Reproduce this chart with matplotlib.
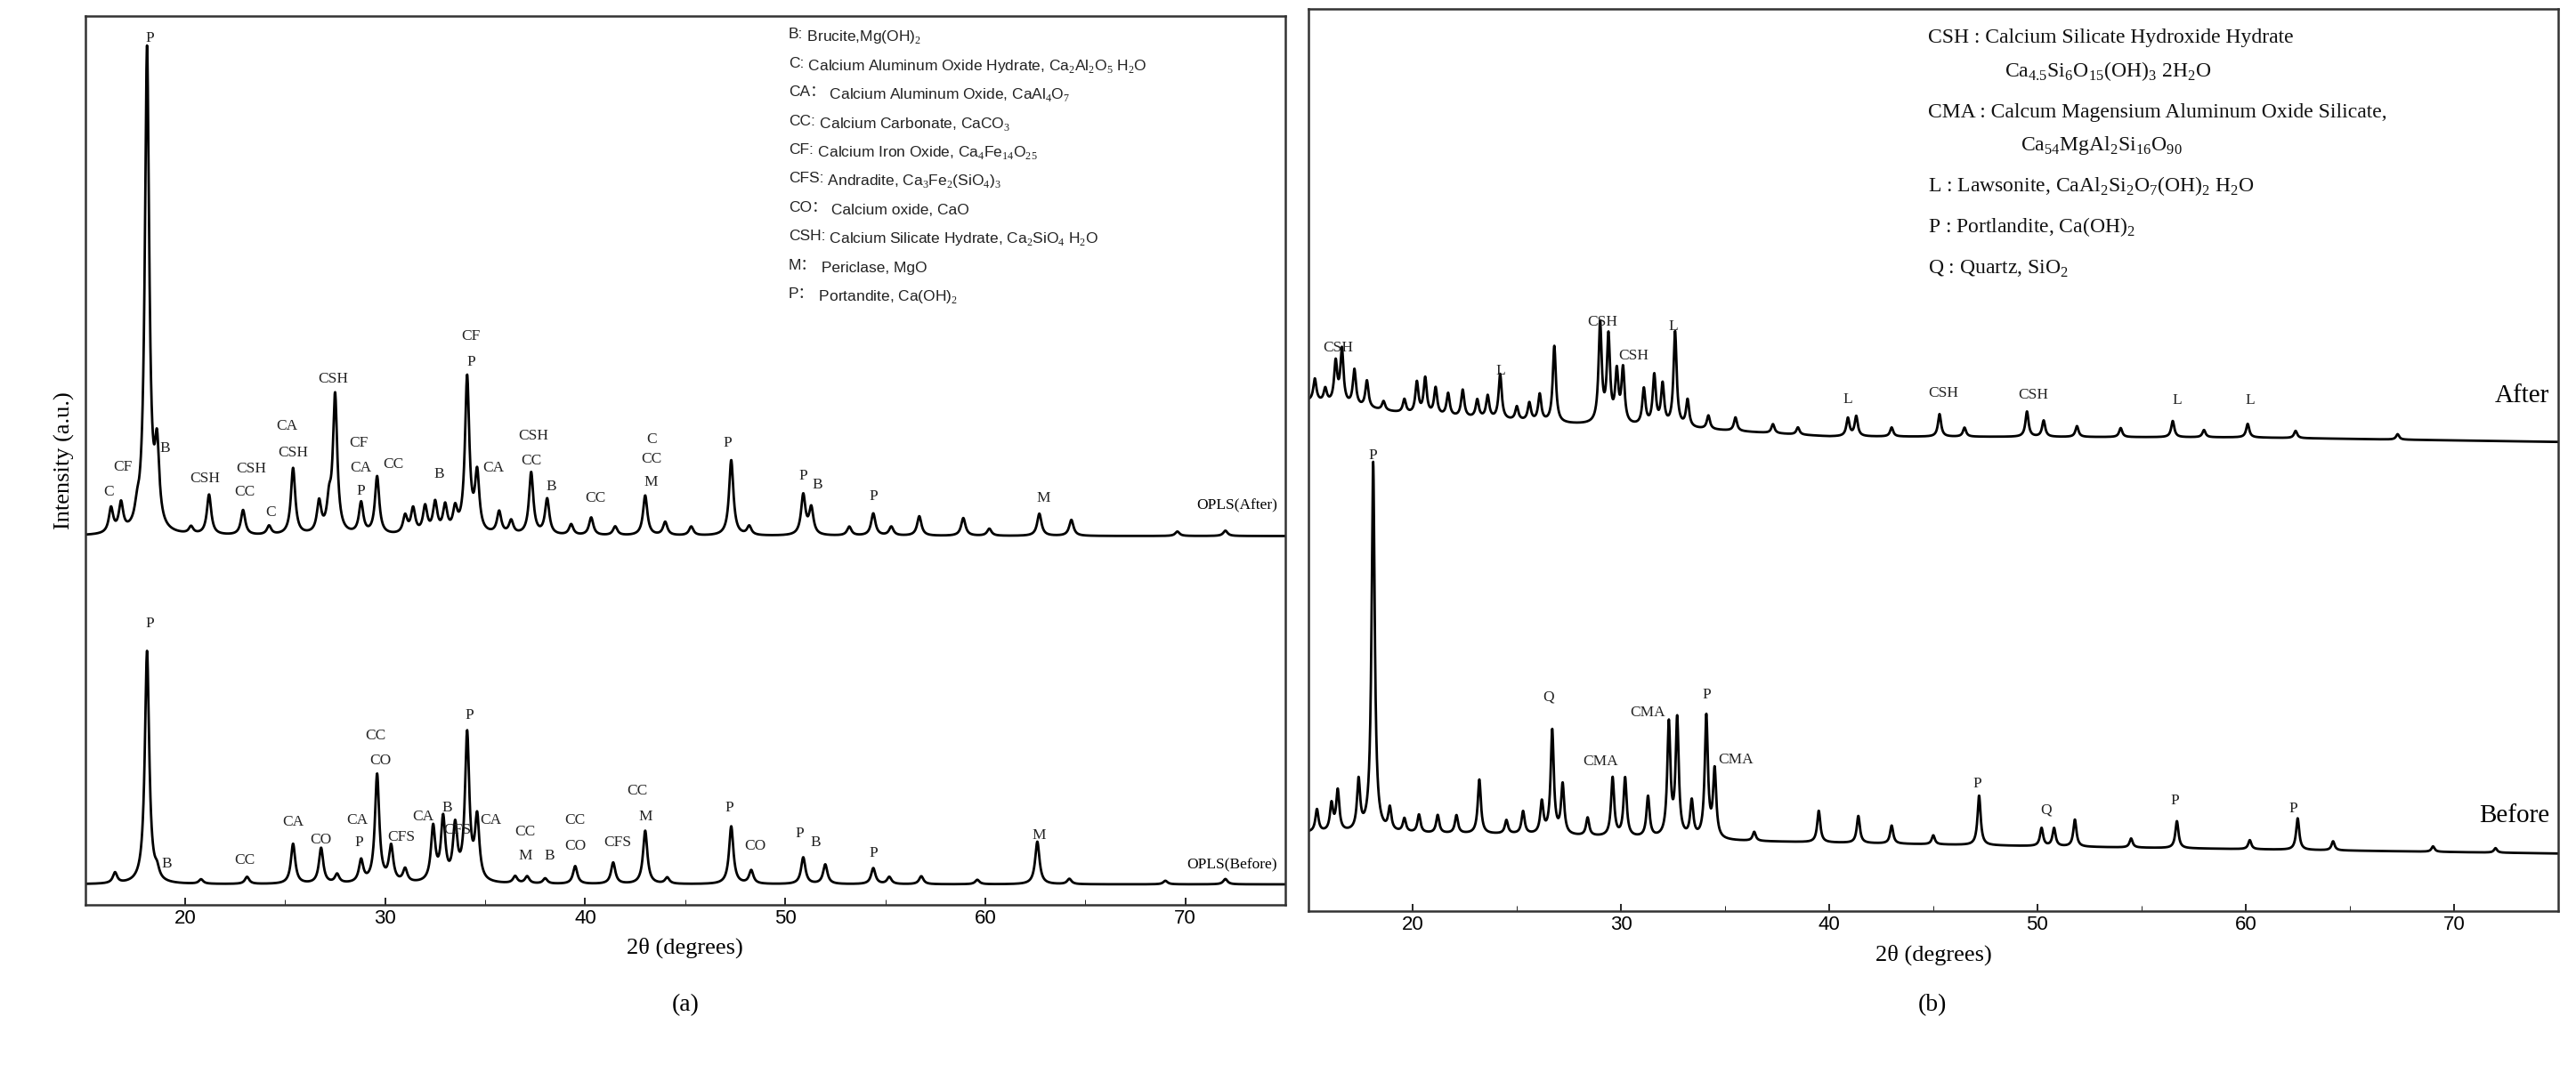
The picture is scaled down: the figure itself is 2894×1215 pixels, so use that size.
import numpy as np
import matplotlib.pyplot as plt

# ---- (a) peaks: position (2theta), height above baseline ----
a_after_base = 41.5
a_after_pos = [16.3, 16.8, 17.6, 18.1, 18.6, 20.3, 21.2, 22.9, 24.2, 25.4, 26.7, 27.2, 27.5,
               28.8, 29.6, 31.0, 31.4, 32.0, 32.5, 33.0, 33.5, 34.1, 34.6, 35.7, 36.3, 37.3,
               38.1, 39.3, 40.3, 41.5, 43.0, 44.0, 45.3, 47.3, 48.2, 50.9, 51.3, 53.2, 54.4,
               55.3, 56.7, 58.9, 60.2, 62.7, 64.3, 69.6, 72.0]
a_after_h = [2.8, 3.2, 1.5, 54.5, 8.5, 0.8, 4.5, 2.8, 1.0, 7.5, 3.5, 3.0, 15.5,
             3.5, 6.5, 2.0, 2.8, 3.0, 3.4, 3.0, 2.5, 17.5, 6.5, 2.5, 1.5, 7.0,
             4.0, 1.2, 2.0, 1.0, 4.5, 1.5, 1.0, 8.5, 1.0, 4.5, 3.0, 1.0, 2.5,
             1.0, 2.2, 2.0, 0.8, 2.5, 1.8, 0.5, 0.6]

a_before_base = 2.3
a_before_pos = [16.5, 18.1, 18.6, 20.8, 23.1, 25.4, 26.8, 27.6, 28.8, 29.6, 30.3, 31.0, 32.4,
                32.9, 33.5, 34.1, 34.6, 36.5, 37.1, 38.0, 39.5, 41.4, 43.0, 44.1, 47.3, 48.3,
                50.9, 52.0, 54.4, 55.2, 56.8, 59.6, 62.6, 64.2, 69.0, 72.0]
a_before_h = [1.2, 26.2, 1.0, 0.5, 0.8, 4.5, 4.0, 1.0, 2.5, 12.2, 4.0, 1.5, 6.1,
              7.0, 6.0, 16.5, 7.0, 0.8, 0.8, 0.6, 2.0, 2.4, 6.0, 0.7, 6.5, 1.5,
              3.0, 2.2, 1.8, 0.8, 0.9, 0.5, 4.8, 0.6, 0.4, 0.6]

# ---- (b) peaks ----
b_after_base = [(15, 56.5), (20, 55.0), (27, 54), (33, 53.5), (40, 52.6), (60, 52.5), (75, 52.0)]
b_after_pos = [15.3, 15.8, 16.3, 16.6, 17.2, 17.8, 18.6, 19.6, 20.2, 20.6, 21.1, 21.7, 22.4,
               23.1, 23.6, 24.2, 25.0, 25.6, 26.1, 26.8, 29.0, 29.4, 29.8, 30.1, 31.1, 31.6,
               32.0, 32.6, 33.2, 34.2, 35.5, 37.3, 38.5, 40.9, 41.3, 43.0, 45.3, 46.5, 49.5,
               50.3, 51.9, 54.0, 56.5, 58.0, 60.1, 62.4, 67.3]
b_after_h = [2.5, 1.5, 4.5, 6.0, 4.0, 3.0, 1.0, 1.5, 3.5, 4.0, 3.0, 2.5, 3.0,
             2.0, 2.5, 5.0, 1.5, 2.0, 3.0, 8.5, 11.0, 9.5, 5.5, 6.0, 4.0, 5.5,
             4.5, 10.5, 3.0, 1.5, 1.5, 1.0, 0.8, 2.0, 2.2, 1.0, 2.5, 1.0, 2.8,
             1.8, 1.2, 1.0, 1.8, 0.8, 1.5, 0.8, 0.6]

b_before_base = [(15, 8.7), (25, 8.5), (35, 7.8), (50, 7.2), (75, 6.4)]
b_before_pos = [15.4, 16.1, 16.4, 17.4, 18.1, 18.9, 19.6, 20.3, 21.2, 22.1, 23.2, 24.5, 25.3,
                26.2, 26.7, 27.2, 28.4, 29.6, 30.2, 31.3, 32.3, 32.7, 33.4, 34.1, 34.5, 36.4,
                39.5, 41.4, 43.0, 45.0, 47.2, 50.2, 50.8, 51.8, 54.5, 56.7, 60.2, 62.5, 64.2,
                69.0, 72.0]
b_before_h = [2.5, 3.0, 4.5, 5.5, 41.0, 2.5, 1.5, 2.0, 2.0, 2.0, 6.0, 1.5, 2.5,
              3.5, 11.5, 5.5, 2.0, 6.5, 6.5, 4.5, 12.5, 13.0, 4.0, 13.5, 7.5, 1.0,
              3.5, 3.0, 2.0, 1.0, 5.5, 2.0, 2.0, 3.0, 1.0, 3.0, 1.0, 3.5, 1.0,
              0.6, 0.5]

# ---- peak labels: (x, y, text) ----
a_after_labels = [(18.26, 97.5, 'P'), (16.2, 46.5, 'C'), (16.9, 49.3, 'CF'), (19.0, 51.4, 'B'),
                  (21.0, 48.0, 'CSH'), (23.3, 49.1, 'CSH'), (23.0, 46.5, 'CC'), (24.3, 44.2, 'C'),
                  (25.1, 53.9, 'CA'), (25.4, 50.9, 'CSH'), (27.4, 59.2, 'CSH'), (28.7, 52.0, 'CF'),
                  (28.8, 49.2, 'CA'), (28.8, 46.6, 'P'), (30.4, 49.6, 'CC'), (32.7, 48.5, 'B'),
                  (34.3, 64.0, 'CF'), (34.3, 61.1, 'P'), (35.4, 49.2, 'CA'), (37.4, 52.8, 'CSH'),
                  (37.3, 50.0, 'CC'), (38.3, 47.1, 'B'), (40.5, 45.8, 'CC'), (43.3, 52.4, 'C'),
                  (43.3, 50.2, 'CC'), (43.3, 47.6, 'M'), (47.1, 52.0, 'P'), (50.9, 48.3, 'P'),
                  (51.6, 47.3, 'B'), (54.4, 46.0, 'P'), (62.9, 45.8, 'M')]
a_before_labels = [(18.26, 31.6, 'P'), (19.1, 4.6, 'B'), (23.0, 5.0, 'CC'), (25.4, 9.3, 'CA'),
                   (26.8, 7.3, 'CO'), (28.6, 9.5, 'CA'), (28.7, 7.0, 'P'), (29.5, 19.0, 'CC'),
                   (29.75, 16.2, 'CO'), (30.8, 7.6, 'CFS'), (31.9, 9.9, 'CA'), (33.1, 10.9, 'B'),
                   (33.6, 8.4, 'CFS'), (34.2, 21.3, 'P'), (35.3, 9.5, 'CA'), (37.0, 8.2, 'CC'),
                   (37.0, 5.5, 'M'), (38.2, 5.5, 'B'), (39.5, 9.5, 'CC'), (39.5, 6.6, 'CO'),
                   (41.6, 7.0, 'CFS'), (42.6, 12.8, 'CC'), (43.0, 9.9, 'M'), (47.2, 10.9, 'P'),
                   (48.5, 6.6, 'CO'), (50.7, 8.0, 'P'), (51.5, 7.0, 'B'), (54.4, 5.8, 'P'),
                   (62.7, 7.8, 'M')]
b_after_labels = [(16.4, 62.4, 'CSH'), (24.2, 59.9, 'L'), (29.1, 65.3, 'CSH'), (30.6, 61.5, 'CSH'),
                  (32.5, 64.8, 'L'), (40.9, 56.7, 'L'), (45.5, 57.4, 'CSH'), (49.8, 57.2, 'CSH'),
                  (56.7, 56.6, 'L'), (60.2, 56.6, 'L')]
b_before_labels = [(18.1, 50.5, 'P'), (26.5, 23.7, 'Q'), (31.3, 22.0, 'CMA'), (29.0, 16.6, 'CMA'),
                   (34.1, 24.0, 'P'), (35.5, 16.8, 'CMA'), (47.1, 14.1, 'P'), (50.4, 11.2, 'Q'),
                   (56.6, 12.2, 'P'), (62.3, 11.4, 'P')]

# legend lines of (a): (prefix, rest)
a_legend = [('B:', ' Brucite,Mg(OH)$_2$'),
            ('C:', ' Calcium Aluminum Oxide Hydrate, Ca$_2$Al$_2$O$_5$ H$_2$O'),
            ('CA\uff1a', ' Calcium Aluminum Oxide, CaAl$_4$O$_7$'),
            ('CC:', ' Calcium Carbonate, CaCO$_3$'),
            ('CF:', ' Calcium Iron Oxide, Ca$_4$Fe$_{14}$O$_{25}$'),
            ('CFS:', ' Andradite, Ca$_3$Fe$_2$(SiO$_4$)$_3$'),
            ('CO\uff1a', ' Calcium oxide, CaO'),
            ('CSH:', ' Calcium Silicate Hydrate, Ca$_2$SiO$_4$ H$_2$O'),
            ('M\uff1a', ' Periclase, MgO'),
            ('P\uff1a', ' Portandite, Ca(OH)$_2$')]
b_legend = [(0.496, 0.968, 'CSH : Calcium Silicate Hydroxide Hydrate'),
            (0.557, 0.931, 'Ca$_{4.5}$Si$_6$O$_{15}$(OH)$_3$ 2H$_2$O'),
            (0.496, 0.885, 'CMA : Calcum Magensium Aluminum Oxide Silicate,'),
            (0.570, 0.848, 'Ca$_{54}$MgAl$_2$Si$_{16}$O$_{90}$'),
            (0.496, 0.804, 'L : Lawsonite, CaAl$_2$Si$_2$O$_7$(OH)$_2$ H$_2$O'),
            (0.496, 0.758, 'P : Portlandite, Ca(OH)$_2$'),
            (0.496, 0.712, 'Q : Quartz, SiO$_2$')]

plt.rcParams['mathtext.fontset'] = 'custom'
plt.rcParams['mathtext.rm'] = 'Liberation Serif'
SERIF = 'Liberation Serif'
SANS = ['Liberation Sans', 'Noto Sans CJK SC']

x = np.linspace(15, 75, 6000)


def pattern(base, pos, h, w=0.13):
    if np.isscalar(base):
        y = np.full_like(x, base)
    else:
        bx, by = zip(*base)
        y = np.interp(x, bx, by)
    for c, hh in zip(pos, h):
        y = y + hh / (1 + ((x - c) / w) ** 2)
    return y


fig = plt.figure(figsize=(28.94, 12.15), dpi=100)
ax1 = fig.add_axes([0.033, 0.163, 0.466, 0.822])
ax2 = fig.add_axes([0.508, 0.157, 0.485, 0.835])

ax1.plot(x, pattern(a_after_base, a_after_pos, a_after_h), color='black', lw=2)
ax1.plot(x, pattern(a_before_base, a_before_pos, a_before_h), color='black', lw=2)
ax2.plot(x, pattern(b_after_base, b_after_pos, b_after_h, 0.09), color='black', lw=2)
ax2.plot(x, pattern(b_before_base, b_before_pos, b_before_h, 0.09), color='black', lw=2)

for lx, ly, t in a_after_labels + a_before_labels:
    ax1.text(lx, ly, t, fontsize=12.5, family=SERIF, ha='center', va='center', color='#222222')
for lx, ly, t in b_after_labels + b_before_labels:
    ax2.text(lx, ly, t, fontsize=12.5, family=SERIF, ha='center', va='center', color='#222222')

ax1.text(74.6, 44.9, 'OPLS(After)', fontsize=12.5, family=SERIF, ha='right', va='center')
ax1.text(74.6, 4.5, 'OPLS(Before)', fontsize=12.5, family=SERIF, ha='right', va='center')
ax2.text(74.6, 57.1, 'After', fontsize=21, family=SERIF, ha='right', va='center')
ax2.text(74.6, 10.6, 'Before', fontsize=21, family=SERIF, ha='right', va='center')

for i, (pre, rest) in enumerate(a_legend):
    t0 = ax1.text(0.586, 0.975 - i * 0.0325, pre, transform=ax1.transAxes, fontsize=12.5,
                  family=SANS, va='baseline', color='#222222')
    ax1.annotate(rest, xy=(1, 0), xycoords=t0, fontsize=12.5, family=SANS,
                 va='baseline', ha='left', color='#222222')
for fx, fy, t in b_legend:
    ax2.text(fx, fy, t, transform=ax2.transAxes, fontsize=17, family=SERIF,
             va='center', color='#111111')

for ax in (ax1, ax2):
    ax.set_xlim(15, 75)
    ax.set_ylim(0, 100)
    ax.set_yticks([])
    ax.set_xticks([20, 30, 40, 50, 60, 70])
    ax.set_xticks([25, 35, 45, 55, 65, 75], minor=True)
    ax.tick_params(axis='x', direction='in', length=6, width=1.2, labelsize=16)
    ax.tick_params(axis='x', which='minor', direction='in', length=4)
    for lab in ax.get_xticklabels():
        lab.set_family(SANS)
    ax.set_xlabel('2\u03b8 (degrees)', fontsize=19, family=SERIF, labelpad=8)
    for s in ax.spines.values():
        s.set_linewidth(1.8)
        s.set_color('#333333')

ax1.set_ylabel('Intensity (a.u.)', fontsize=19, family=SERIF, labelpad=8)
fig.text(0.266, 0.065, '(a)', fontsize=20, family=SERIF, ha='center')
fig.text(0.75, 0.065, '(b)', fontsize=20, family=SERIF, ha='center')

fig.savefig('out.png', dpi=100)
